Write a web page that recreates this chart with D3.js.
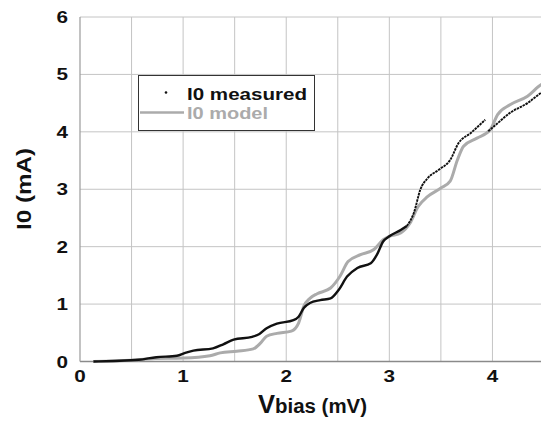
<!DOCTYPE html>
<html>
<head>
<meta charset="utf-8">
<script src="https://cdn.jsdelivr.net/npm/d3@7"></script>
<style>
  body { margin: 0; background: #fff; }
  svg { display: block; }
  text { font-family: "Liberation Sans", Arial, sans-serif; font-weight: bold; }
</style>
</head>
<body>
<div id="chart"></div>
<script>
// measured I0 (mA) vs Vbias (mV); null marks the small gap near 3.95 mV
var measuredV = [0.13, 0.32, 0.57, 0.74, 0.94, 1.02, 1.10, 1.29, 1.39, 1.49, 1.67, 1.74, 1.81, 1.91, 2.07, 2.12, 2.17, 2.23, 2.33, 2.43, 2.51, 2.59, 2.69, 2.82, 2.88, 2.94, 3.00, 3.11, 3.17, 3.24, 3.30, 3.37, 3.48, 3.59, 3.67, 3.79, 3.93, 3.945, 3.96, 4.05, 4.17, 4.34, 4.47, 4.50],
    measuredI = [0.00, 0.01, 0.03, 0.075, 0.10, 0.15, 0.19, 0.23, 0.30, 0.38, 0.43, 0.48, 0.58, 0.66, 0.72, 0.78, 0.93, 1.02, 1.07, 1.10, 1.25, 1.48, 1.63, 1.71, 1.86, 2.09, 2.18, 2.29, 2.36, 2.60, 2.99, 3.19, 3.34, 3.51, 3.80, 3.98, 4.21, null, 4.01, 4.15, 4.33, 4.50, 4.68, 4.72];

var modelV = [0.13, 0.50, 0.70, 1.00, 1.26, 1.36, 1.52, 1.68, 1.75, 1.81, 1.91, 2.05, 2.12, 2.17, 2.23, 2.30, 2.43, 2.52, 2.60, 2.72, 2.85, 2.94, 3.00, 3.11, 3.20, 3.28, 3.37, 3.50, 3.59, 3.66, 3.72, 3.85, 3.98, 4.05, 4.17, 4.34, 4.47, 4.50],
    modelI = [0.00, 0.02, 0.05, 0.06, 0.10, 0.15, 0.18, 0.22, 0.32, 0.44, 0.49, 0.53, 0.67, 0.96, 1.10, 1.18, 1.28, 1.48, 1.74, 1.86, 1.95, 2.12, 2.18, 2.24, 2.41, 2.70, 2.87, 3.02, 3.14, 3.51, 3.75, 3.89, 4.04, 4.30, 4.47, 4.62, 4.82, 4.85];

var xTicks = [0, 1, 2, 3, 4],
    xGrid = [0.5, 1, 1.5, 2, 2.5, 3, 3.5, 4, 4.5],
    yTicks = [0, 1, 2, 3, 4, 5, 6];

var width = 541, height = 421;
var margin = {top: 17, left: 80, bottom: 59.5};

var x = d3.scaleLinear().domain([0, 4.5]).range([margin.left, 544]);
var y = d3.scaleLinear().domain([0, 6]).range([height - margin.bottom, margin.top]);

var svg = d3.select("#chart").append("svg")
    .attr("width", width)
    .attr("height", height);

// grid
svg.append("g").selectAll("line")
    .data(xGrid)
  .enter().append("line")
    .attr("x1", function(d) { return x(d); })
    .attr("x2", function(d) { return x(d); })
    .attr("y1", y(0))
    .attr("y2", y(6))
    .attr("stroke", "#c4c4c4")
    .attr("stroke-width", 1);

svg.append("g").selectAll("line")
    .data(yTicks)
  .enter().append("line")
    .attr("x1", x(0))
    .attr("x2", x(4.5))
    .attr("y1", function(d) { return y(d); })
    .attr("y2", function(d) { return y(d); })
    .attr("stroke", function(d) { return d === 0 ? "#8a8a8a" : "#c4c4c4"; })
    .attr("stroke-width", function(d) { return d === 0 ? 1.5 : 1; });

svg.append("line")
    .attr("x1", x(0)).attr("x2", x(0))
    .attr("y1", y(0)).attr("y2", y(6))
    .attr("stroke", "#9a9a9a")
    .attr("stroke-width", 1.2);

// tick labels
svg.append("g").selectAll("text")
    .data(xTicks)
  .enter().append("text")
    .attr("x", function(d) { return x(d); })
    .attr("y", 382)
    .attr("text-anchor", "middle")
    .attr("font-size", 16)
    .attr("textLength", 11.5)
    .attr("lengthAdjust", "spacingAndGlyphs")
    .attr("fill", "#111")
    .text(function(d) { return d; });

svg.append("g").selectAll("text")
    .data(yTicks)
  .enter().append("text")
    .attr("x", 68)
    .attr("y", function(d) { return y(d) + 6; })
    .attr("text-anchor", "end")
    .attr("font-size", 16)
    .attr("textLength", 11.5)
    .attr("lengthAdjust", "spacingAndGlyphs")
    .attr("fill", "#111")
    .text(function(d) { return d; });

// axis titles
svg.append("text")
    .attr("transform", "translate(31,189) rotate(-90)")
    .attr("text-anchor", "middle")
    .attr("font-size", 20)
    .attr("textLength", 82)
    .attr("lengthAdjust", "spacingAndGlyphs")
    .attr("fill", "#111")
    .text("I0 (mA)");

var xt = svg.append("text")
    .attr("x", 258)
    .attr("y", 413)
    .attr("textLength", 109)
    .attr("lengthAdjust", "spacingAndGlyphs")
    .attr("fill", "#111");
xt.append("tspan").attr("font-size", 25).text("V");
xt.append("tspan").attr("font-size", 20).text("bias (mV)");

// curves
var line = d3.line()
    .defined(function(d) { return d[1] != null; })
    .x(function(d) { return x(d[0]); })
    .y(function(d) { return y(d[1]); })
    .curve(d3.curveMonotoneX);

var model = modelV.map(function(v, i) { return [v, modelI[i]]; });
var measured = measuredV.map(function(v, i) { return [v, measuredI[i]]; });

svg.append("path")
    .datum(model)
    .attr("d", line)
    .attr("fill", "none")
    .attr("stroke", "#ababab")
    .attr("stroke-width", 3);

svg.append("path")
    .datum(measured.filter(function(d) { return d[0] <= 3.2; }))
    .attr("d", line)
    .attr("fill", "none")
    .attr("stroke", "#111")
    .attr("stroke-width", 2.4);

// upper part of the measurement is a sparser run of points
svg.append("path")
    .datum(measured.filter(function(d) { return d[0] >= 3.17; }))
    .attr("d", line)
    .attr("fill", "none")
    .attr("stroke", "#111")
    .attr("stroke-width", 1.9)
    .attr("stroke-dasharray", "2.5,0.8");

// legend
var legend = svg.append("g");
legend.append("rect")
    .attr("x", 138.5).attr("y", 75.5)
    .attr("width", 176).attr("height", 55)
    .attr("fill", "#fff")
    .attr("stroke", "#333")
    .attr("stroke-width", 1);
legend.append("circle")
    .attr("cx", 166).attr("cy", 92.5)
    .attr("r", 1.3)
    .attr("fill", "#111");
legend.append("text")
    .attr("x", 187).attr("y", 100)
    .attr("font-size", 17)
    .attr("textLength", 120)
    .attr("lengthAdjust", "spacingAndGlyphs")
    .attr("fill", "#111")
    .text("I0 measured");
legend.append("line")
    .attr("x1", 140).attr("x2", 184)
    .attr("y1", 112.5).attr("y2", 112.5)
    .attr("stroke", "#ababab")
    .attr("stroke-width", 2.5);
legend.append("text")
    .attr("x", 187).attr("y", 118.5)
    .attr("font-size", 17)
    .attr("textLength", 81)
    .attr("lengthAdjust", "spacingAndGlyphs")
    .attr("fill", "#ababab")
    .text("I0 model");
</script>
</body>
</html>
